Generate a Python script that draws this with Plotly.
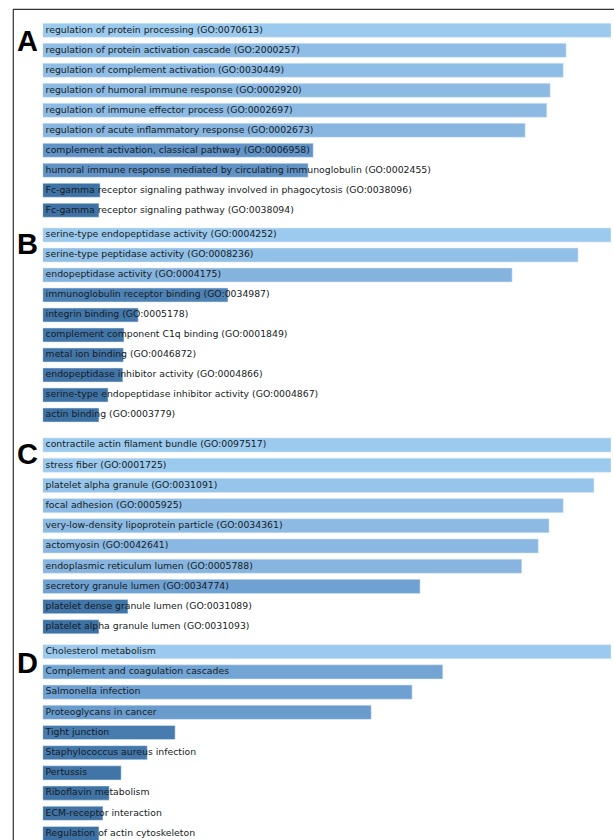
import plotly.graph_objects as go
from plotly.subplots import make_subplots

# ---- Enrichment results (relative enrichment score, top term = 100) ----
bp_terms = [
    "regulation of protein processing (GO:0070613)",
    "regulation of protein activation cascade (GO:2000257)",
    "regulation of complement activation (GO:0030449)",
    "regulation of humoral immune response (GO:0002920)",
    "regulation of immune effector process (GO:0002697)",
    "regulation of acute inflammatory response (GO:0002673)",
    "complement activation, classical pathway (GO:0006958)",
    "humoral immune response mediated by circulating immunoglobulin (GO:0002455)",
    "Fc-gamma receptor signaling pathway involved in phagocytosis (GO:0038096)",
    "Fc-gamma receptor signaling pathway (GO:0038094)",
]
bp_scores = [100, 92.1, 91.6, 89.3, 88.7, 84.9, 47.6, 46.7, 10.1, 9.9]

mf_terms = [
    "serine-type endopeptidase activity (GO:0004252)",
    "serine-type peptidase activity (GO:0008236)",
    "endopeptidase activity (GO:0004175)",
    "immunoglobulin receptor binding (GO:0034987)",
    "integrin binding (GO:0005178)",
    "complement component C1q binding (GO:0001849)",
    "metal ion binding (GO:0046872)",
    "endopeptidase inhibitor activity (GO:0004866)",
    "serine-type endopeptidase inhibitor activity (GO:0004867)",
    "actin binding (GO:0003779)",
]
mf_scores = [100, 94.2, 82.6, 32.6, 16.8, 14.3, 14.2, 14.1, 11.5, 9.9]

cc_terms = [
    "contractile actin filament bundle (GO:0097517)",
    "stress fiber (GO:0001725)",
    "platelet alpha granule (GO:0031091)",
    "focal adhesion (GO:0005925)",
    "very-low-density lipoprotein particle (GO:0034361)",
    "actomyosin (GO:0042641)",
    "endoplasmic reticulum lumen (GO:0005788)",
    "secretory granule lumen (GO:0034774)",
    "platelet dense granule lumen (GO:0031089)",
    "platelet alpha granule lumen (GO:0031093)",
]
cc_scores = [100, 100, 97.0, 91.6, 89.1, 87.2, 84.3, 66.4, 15.0, 9.9]

kegg_terms = [
    "Cholesterol metabolism",
    "Complement and coagulation cascades",
    "Salmonella infection",
    "Proteoglycans in cancer",
    "Tight junction",
    "Staphylococcus aureus infection",
    "Pertussis",
    "Riboflavin metabolism",
    "ECM-receptor interaction",
    "Regulation of actin cytoskeleton",
]
kegg_scores = [100, 70.4, 65.0, 57.8, 23.3, 18.4, 13.8, 11.7, 10.6, 9.9]

panel_letters = ["A", "B", "C", "D"]
panels = [(bp_terms, bp_scores), (mf_terms, mf_scores),
          (cc_terms, cc_scores), (kegg_terms, kegg_scores)]

# ---- layout geometry (pixels) ----
W, H = 614, 840
X0, X1 = 42.7, 611.0                 # bar start / full-length bar end
row_first = [30.3, 235.0, 445.0, 651.7]
row_pitch = [20.0, 20.0, 20.2, 20.2]
letter_y = [41, 244, 454, 663]

bar_scale = [
    [0.00, "#3a6b9b"],
    [0.15, "#4275a8"],
    [0.35, "#5084b7"],
    [0.50, "#6496c9"],
    [0.70, "#71a3d4"],
    [0.85, "#88b6e0"],
    [0.95, "#92c0e7"],
    [1.00, "#9ccaee"],
]

fig = make_subplots(rows=4, cols=1)

for i, (terms, scores) in enumerate(panels):
    fig.add_trace(go.Bar(
        x=scores, y=terms, orientation="h",
        marker=dict(color=scores, colorscale=bar_scale, cmin=0, cmax=100,
                    line=dict(width=0.6, color="rgba(215,232,248,0.9)")),
        hoverinfo="x+y", showlegend=False,
    ), row=i + 1, col=1)
    # term names written from the left end of each bar
    fig.add_trace(go.Scatter(
        x=[0] * len(terms), y=terms, mode="markers+text", text=terms,
        textposition="middle right",
        marker=dict(size=3, opacity=0),
        textfont=dict(family="DejaVu Sans", size=9.3, color="#151c24"),
        hoverinfo="skip", showlegend=False, cliponaxis=False,
    ), row=i + 1, col=1)

    c1, p = row_first[i], row_pitch[i]
    top = c1 - p / 2
    bottom = min(H, c1 + 9.5 * p)
    suffix = "" if i == 0 else str(i + 1)
    fig.layout["yaxis" + suffix].update(
        domain=[1 - bottom / H, 1 - top / H],
        range=[(bottom - c1) / p, -0.5],
        visible=False, type="category",
    )
    fig.layout["xaxis" + suffix].update(
        domain=[X0 / W, X1 / W], range=[0, 100], visible=False,
    )
    fig.add_annotation(
        x=27 / W, y=1 - letter_y[i] / H, xref="paper", yref="paper",
        text="<b>%s</b>" % panel_letters[i], showarrow=False,
        xanchor="center", yanchor="middle",
        font=dict(family="Liberation Sans", size=29, color="#000000"),
    )

# frame around the figure (top and left edges)
fig.add_shape(type="line", xref="paper", yref="paper",
              x0=13 / W, x1=1.02, y0=1 - 9.3 / H, y1=1 - 9.3 / H,
              line=dict(color="#333333", width=1.2))
fig.add_shape(type="line", xref="paper", yref="paper",
              x0=13.3 / W, x1=13.3 / W, y0=-0.02, y1=1 - 9.3 / H,
              line=dict(color="#333333", width=1.2))

fig.update_layout(
    width=W, height=H,
    margin=dict(l=0, r=0, t=0, b=0),
    paper_bgcolor="white", plot_bgcolor="white",
    bargap=0.3,
)

fig.write_html("out.html")
